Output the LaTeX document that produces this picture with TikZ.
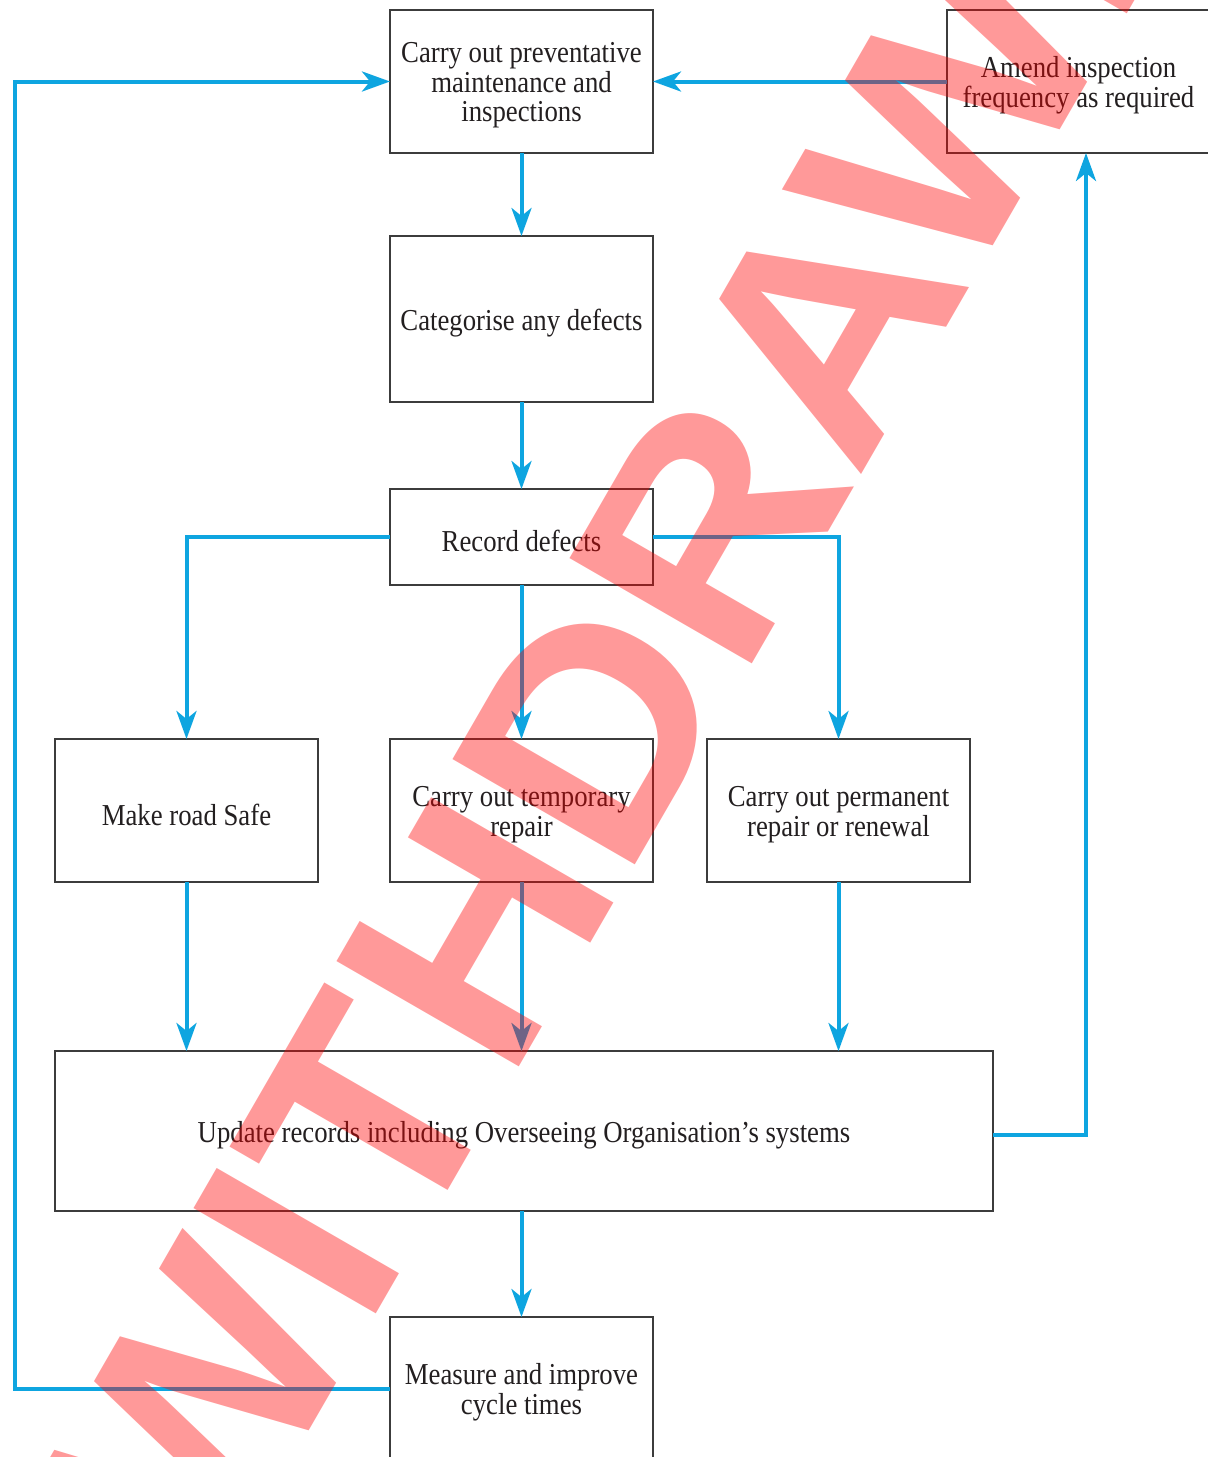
\documentclass[tikz,border=0pt]{standalone}
\usepackage{fontspec}
\setmainfont{Liberation Serif}[FakeStretch=0.88]
\newfontfamily\wmfont{Liberation Sans}
\usetikzlibrary{arrows.meta}
\definecolor{flowblue}{RGB}{14,165,224}
\definecolor{ink}{RGB}{35,31,32}
\definecolor{frame}{RGB}{60,60,60}
\begin{document}
\begin{tikzpicture}[x=0.5pt,y=-0.5pt,
  box/.style={draw=frame, line width=0.65pt, text=ink, align=center,
    inner sep=0pt, outer sep=0pt, font=\fontsize{15.2}{14.8}\selectfont,
    minimum width=131.5pt, minimum height=71.5pt},
  lower/.style={label={[text=ink, align=center, inner sep=0pt,
    font=\fontsize{15.2}{14.8}\selectfont, yshift=-2pt]center:#1}},
  flow/.style={draw=flowblue, line width=2pt,
    -{Stealth[length=14pt,width=10pt,inset=4pt]}}]
\useasboundingbox (0,0) rectangle (1208,1457);
\clip (0,0) rectangle (1208,1457);
\fill[white] (0,0) rectangle (1208,1457);

% process boxes (frame as the node, wording as a centred label set a little low)
\node[box, lower={Carry out preventative\\maintenance and\\inspections}] (prev) at (521.5,81.5) {};
\node[box, minimum height=83pt, lower={Categorise any defects}] (cat) at (521.5,319) {};
\node[box, minimum height=48pt, lower={Record defects}] (rec) at (521.5,537) {};
\node[box, lower={Make road Safe}] (safe) at (186.5,810.5) {};
\node[box, lower={Carry out temporary\\repair}] (temp) at (521.5,810.5) {};
\node[box, lower={Carry out permanent\\repair or renewal}] (perm) at (838.5,810.5) {};
\node[box, minimum width=469pt, minimum height=80pt,
  lower={Update records including Overseeing Organisation’s systems}] (upd) at (524,1131) {};
\node[box, lower={Measure and improve\\cycle times}] (meas) at (521.5,1388.5) {};
\node[box, lower={Amend inspection\\frequency as required}] (amend) at (1078.5,81.5) {};

% routing points for the feedback loops
\coordinate (lft) at (14.5,700);
\coordinate (rgt) at (1086,600);

% connectors
\draw[flow] (prev) -- (cat);
\draw[flow] (cat) -- (rec);
\draw[flow] (rec) -- (temp);
\draw[flow] (rec.west) -| (safe.north);
\draw[flow] (rec.east) -| (perm.north);
\draw[flow] (safe) -- (safe |- upd.north);
\draw[flow] (temp) -- (temp |- upd.north);
\draw[flow] (perm) -- (perm |- upd.north);
\draw[flow] (meas |- upd.south) -- (meas);
\draw[flow] (meas.west) -| (lft) |- (prev.west);
\draw[flow] ([yshift=-2pt]upd.east) -| (rgt |- amend.south);
\draw[flow] (amend) -- (prev);

% status stamp across the sheet
\node[font=\wmfont\bfseries\fontsize{153}{153}\selectfont, text=red,
  text opacity=0.4, inner sep=0pt, outer sep=0pt, anchor=base west,
  rotate=60, xscale=1.052, transform shape] (stamp) at (213.7,1596.1) {WITHDRAWN};
\end{tikzpicture}
\end{document}
